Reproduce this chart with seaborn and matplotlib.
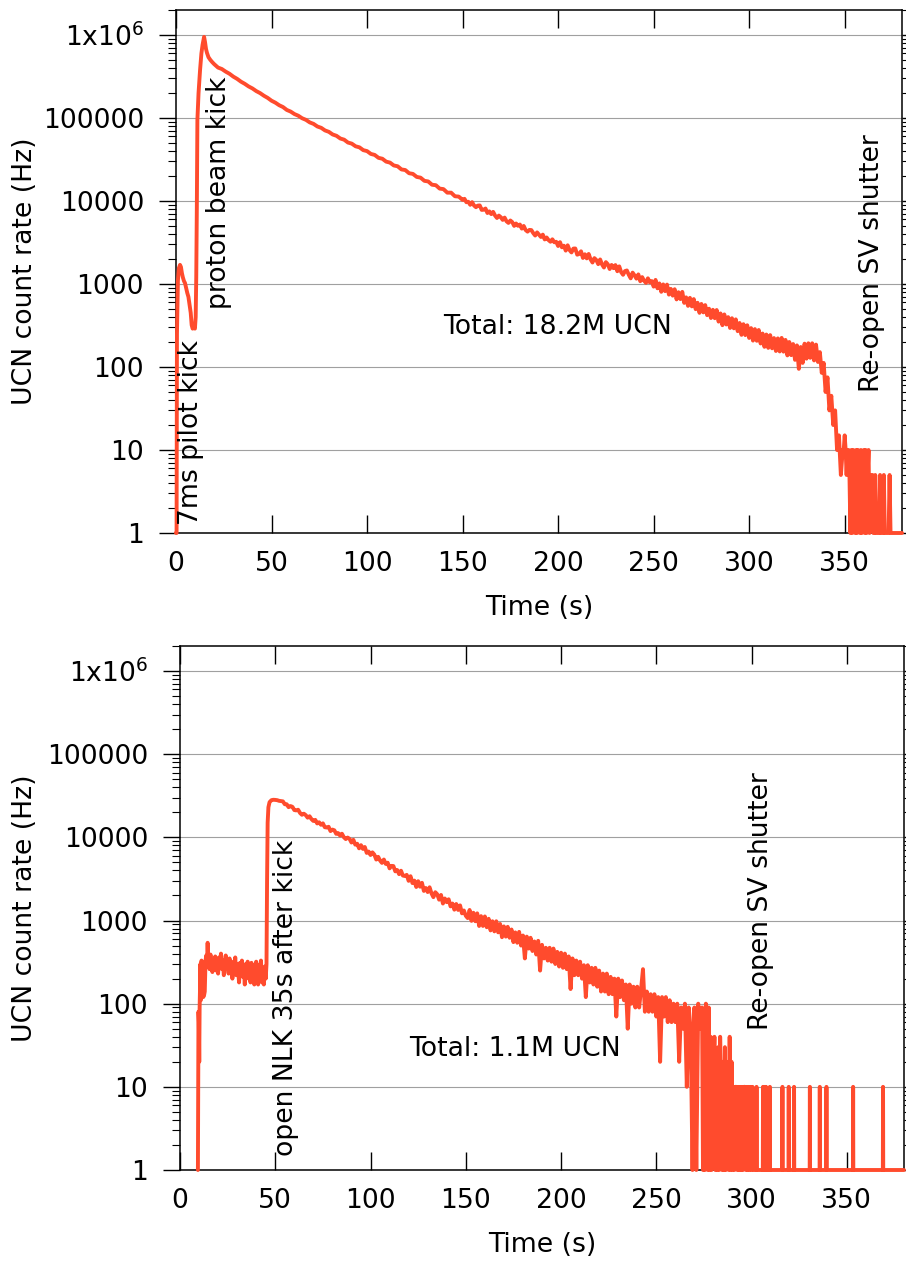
import numpy as np
import pandas as pd
import matplotlib
matplotlib.use("Agg")
import matplotlib.pyplot as plt
import matplotlib.ticker as mticker
import seaborn as sns

# ---------------------------------------------------------------------------
# UCN count rate (Hz) versus time (s).  Each run is stored as a few segments;
# the regular segments share a sampling step, the irregular ones list times.
# ---------------------------------------------------------------------------

# ---- Run 1: 7 ms pilot kick, then proton beam kick -------------------------
run1_kick_time = [0.0, 0.3, 0.5, 1.0, 1.5, 2.1, 2.6, 3.1, 3.6, 4.2, 4.7, 5.3, 5.9,
                  6.5, 7.1, 7.7, 8.2, 8.7, 9.3, 9.9, 10.3, 10.6, 10.9, 11.2, 11.8,
                  12.6, 13.3, 13.9, 14.7, 15.2, 15.7, 16.2, 17.0, 18.0, 19.0, 20.0,
                  21.0, 22.0]
run1_kick_rate = [0, 0, 250, 1100, 1550, 1700, 1600, 1350, 1200, 1080, 1030, 900, 780,
                  700, 560, 450, 320, 290, 300, 290, 400, 1200, 8000, 95000, 200000,
                  380000, 600000, 760000, 950000, 820000, 680000, 610000, 540000,
                  500000, 470000, 445000, 425000, 405000]

# 24 s .. 150 s, every 2 s
run1_early_grid = (24, 150, 2)
run1_early_rate = [389000, 362000, 341000, 315000, 296000, 274000, 258000, 240000,
                   227000, 211000, 199500, 185500, 174500, 161500, 153000, 142500,
                   135500, 125000, 119500, 111500, 106500, 99300, 95000, 88500,
                   84900, 79000, 76100, 70800, 68100, 63300, 61000, 56600,
                   54800, 50600, 49100, 45600, 44300, 41000, 39900, 36900,
                   35900, 33100, 32300, 29800, 29000, 26800, 26200, 24000,
                   23600, 21600, 21200, 19500, 19100, 17500, 17200, 15700,
                   15500, 14100, 13900, 12600, 12600, 11400, 11300, 10300]

# 151 s .. 250 s, every 1 s
run1_mid_grid = (151, 250, 1)
run1_mid_rate = [10620, 9650, 9800, 8990, 9690, 8815, 8420, 8805, 8840, 7805,
                 7850, 8115, 7165, 7495, 6950, 7400, 6675, 6240, 6670, 6375,
                 5915, 6310, 5695, 5445, 5820, 5570, 5010, 5355, 5025, 5205,
                 4645, 5005, 4470, 4275, 4485, 4460, 4100, 3835, 4185, 3930,
                 3685, 3935, 3440, 3635, 3380, 3230, 3455, 3180, 3225, 2870,
                 3190, 2765, 2895, 2525, 2925, 2560, 2400, 2670, 2680, 2255,
                 2300, 2475, 2060, 2280, 2035, 2300, 1980, 1815, 2050, 1945,
                 1735, 1975, 1720, 1580, 1835, 1730, 1515, 1695, 1550, 1690,
                 1425, 1630, 1390, 1290, 1430, 1455, 1290, 1170, 1370, 1270,
                 1160, 1305, 1080, 1210, 1095, 1030, 1170, 1045, 1085, 930]

# 251 s .. 349 s, every 1 s
run1_late_grid = (251, 349, 1)
run1_late_rate = [1120, 887, 1016, 805, 989, 820, 984, 745, 873, 724,
                  865, 652, 796, 658, 804, 592, 690, 545, 681, 537,
                  658, 497, 594, 449, 575, 455, 557, 421, 504, 389,
                  489, 387, 486, 352, 442, 319, 430, 325, 399, 295,
                  387, 292, 375, 270, 339, 244, 328, 242, 318, 224,
                  294, 208, 286, 207, 279, 192, 253, 175, 246, 170,
                  242, 168, 223, 156, 221, 154, 224, 153, 212, 138,
                  200, 139, 189, 122, 182, 95, 174, 112, 191, 126,
                  193, 129, 193, 120, 186, 115, 151, 85, 112, 50,
                  75, 30, 45, 20, 30, 10, 15, 5, 10]

# 349.5 s .. 380 s, every 0.5 s
run1_tail_grid = (349.5, 380, 0.5)
run1_tail_rate = [10, 15, 10, 5, 10, 10, 5, 0, 10, 0,
                  10, 5, 0, 10, 0, 10, 5, 0, 10, 0,
                  5, 10, 0, 10, 0, 5, 10, 0, 5, 5,
                  5, 0, 0, 5, 0, 0, 0, 0, 5, 0,
                  0, 0, 5, 0, 0, 0, 0, 0, 5, 0,
                  0, 0, 0, 0, 0, 0, 0, 0, 0, 0, 0, 0]

# ---- Run 2: NLK opened 35 s after the kick ---------------------------------
run2_start_time = [9.4, 9.7, 9.9, 10.1, 10.3, 10.5, 10.7, 10.9, 11.1, 11.3, 11.6,
                   11.9, 12.2, 12.6, 13.0, 13.4, 13.8, 14.2, 14.5, 14.8]
run2_start_rate = [0, 80, 60, 20, 90, 150, 300, 110, 280, 330, 260,
                   130, 120, 125, 140, 330, 380, 300, 540, 320]

# 15 s .. 45 s, every 0.5 s (closed NLK)
run2_plateau_grid = (15, 45, 0.5)
run2_plateau_rate = [350, 260, 390, 300, 240, 330, 280, 370, 250, 310, 230,
                     360, 290, 400, 260, 330, 220, 300, 380, 270, 310,
                     230, 350, 240, 290, 200, 320, 260, 360, 220, 300,
                     250, 180, 310, 240, 330, 210, 280, 170, 300, 240,
                     320, 200, 270, 180, 310, 230, 290, 170, 260, 320,
                     220, 170, 290, 240, 330, 180, 260, 170, 280, 200]

run2_open_time = [45.4, 45.7, 46.0, 46.4, 47.0, 48.0, 49.0, 50.0, 51.0, 52.0]
run2_open_rate = [300, 3000, 15000, 23000, 26500, 28000, 28300, 28200, 28000, 27500]

# 54 s .. 150 s, every 1 s
run2_early_grid = (54, 150, 1)
run2_early_rate = [27090, 25010, 25010, 23070, 23780, 23300, 21290, 21090, 21500, 19650,
                   18680, 19260, 18500, 17250, 17940, 16570, 15730, 16230, 14700, 15180,
                   14160, 14740, 13240, 13130, 13400, 11890, 12400, 12160, 11020, 11260,
                   10510, 11060, 10030, 9540, 9950, 9570, 8660, 9340, 8170, 8380,
                   7380, 8050, 7260, 7660, 6500, 6750, 6130, 6600, 6200, 5410,
                   5840, 5270, 4930, 5410, 4790, 4960, 4240, 4540, 4520, 3900,
                   4050, 3610, 3970, 3470, 3430, 3540, 3000, 3410, 2820, 3020,
                   2530, 2970, 2550, 2840, 2270, 2460, 2200, 2510, 2120, 1910,
                   2190, 2070, 1780, 2030, 1600, 1840, 1660, 1800, 1480, 1600,
                   1350, 1580, 1340, 1520, 1220, 1320, 1140]

# 151 s .. 274 s, every 1 s
run2_late_grid = (151, 274, 1)
run2_late_rate = [1070, 1340, 990, 1240, 980, 1220, 860, 1130, 860, 1120,
                  830, 1050, 760, 980, 740, 980, 720, 910, 630, 850,
                  640, 840, 620, 780, 550, 720, 540, 730, 500, 660,
                  350, 640, 460, 620, 430, 560, 390, 570, 250, 510,
                  350, 470, 330, 470, 320, 460, 300, 420, 280, 410,
                  270, 400, 260, 370, 150, 350, 220, 330, 220, 320,
                  200, 290, 120, 290, 180, 270, 170, 270, 160, 250,
                  140, 230, 140, 230, 130, 210, 130, 200, 70, 200,
                  120, 190, 110, 170, 50, 170, 100, 160, 90, 160,
                  90, 150, 260, 80, 140, 80, 130, 80, 130, 70,
                  120, 20, 120, 70, 120, 60, 110, 60, 100, 60,
                  100, 20, 90, 50, 100, 10, 90, 50, 0, 90,
                  0, 100, 50, 90]

# 274.5 s .. 302 s, every 0.5 s
run2_fade_grid = (274.5, 302, 0.5)
run2_fade_rate = [0, 80, 0, 100, 30, 0, 90, 0, 40, 0,
                  30, 10, 40, 0, 20, 0, 30, 0, 40, 10,
                  0, 20, 0, 30, 0, 20, 10, 0, 40, 0,
                  20, 0, 10, 0, 10, 10, 0, 10, 0, 10,
                  0, 10, 0, 10, 10, 0, 10, 0, 10, 0,
                  10, 0, 10, 0, 0, 0]

# after 302 s: empty 0.1 s bins except for single counts (10 Hz)
run2_tail_grid = (302.1, 380.0, 0.1)
run2_single_count_times = [302.6, 306.0, 306.8, 307.6, 309.6, 316.2, 319.5, 322.3,
                           330.6, 335.8, 339.3, 353.3, 369.0]
run2_single_count_rate = 10

yticks = [1, 10, 100, 1000, 10000, 100000, 1000000]
ytick_labels = ["1", "10", "100", "1000", "10000", "100000",
                r"$\mathregular{1x10^{6}}$"]
xticks = [0, 50, 100, 150, 200, 250, 300, 350]


def grid(spec):
    start, stop, step = spec
    return np.round(np.arange(start, stop + step / 2, step), 3)


def series(parts):
    for p in parts:
        assert len(p[0]) == len(p[1]), (len(p[0]), len(p[1]))
    t = np.concatenate([np.asarray(p[0], float) for p in parts])
    r = np.concatenate([np.asarray(p[1], float) for p in parts])
    return pd.DataFrame({"time": t, "rate": r})


run1 = series([
    (run1_kick_time, run1_kick_rate),
    (grid(run1_early_grid), run1_early_rate),
    (grid(run1_mid_grid), run1_mid_rate),
    (grid(run1_late_grid), run1_late_rate),
    (grid(run1_tail_grid), run1_tail_rate),
])

tail_t = grid(run2_tail_grid)
tail_r = np.zeros_like(tail_t)
tail_idx = np.rint((np.array(run2_single_count_times) - run2_tail_grid[0])
                   / run2_tail_grid[2]).astype(int)
tail_r[tail_idx] = run2_single_count_rate

run2 = series([
    (run2_start_time, run2_start_rate),
    (grid(run2_plateau_grid), run2_plateau_rate),
    (run2_open_time, run2_open_rate),
    (grid(run2_early_grid), run2_early_rate),
    (grid(run2_late_grid), run2_late_rate),
    (grid(run2_fade_grid), run2_fade_rate),
    (tail_t, tail_r),
])

# ---------------------------------------------------------------------------
sns.set_style("white")
plt.rcParams["font.family"] = ["DejaVu Sans"]
plt.rcParams["mathtext.default"] = "regular"
for key in ("text.color", "axes.labelcolor", "xtick.color", "ytick.color"):
    plt.rcParams[key] = "black"

FS = 19.2
LINE = "#ff4b2d"
W, H = 906, 1262

fig = plt.figure(figsize=(W / 100, H / 100), dpi=100)


def panel(rect_px, df, labels):
    l, t, r, b = rect_px
    ax = fig.add_axes([l / W, 1 - b / H, (r - l) / W, (b - t) / H])
    ax.set_yscale("log")
    ax.set_xlim(0, 380)
    ax.set_ylim(1, 2.0e6)

    # counts of zero sit on the 1 Hz floor of the log axis
    shown = df.assign(rate=df["rate"].clip(lower=1))
    sns.lineplot(data=shown, x="time", y="rate", ax=ax, color=LINE,
                 linewidth=2.8, estimator=None, sort=False,
                 clip_on=False, zorder=4)

    ax.yaxis.set_major_locator(mticker.FixedLocator(yticks))
    ax.yaxis.set_major_formatter(mticker.FixedFormatter(ytick_labels))
    ax.yaxis.set_minor_locator(mticker.LogLocator(base=10, subs=np.arange(2, 10)))
    ax.yaxis.set_minor_formatter(mticker.NullFormatter())
    ax.xaxis.set_major_locator(mticker.FixedLocator(xticks))
    ax.xaxis.set_minor_locator(mticker.NullLocator())

    ax.tick_params(axis="y", which="major", direction="out", length=12, width=1.0,
                   left=True, right=True, labelsize=FS, pad=11)
    ax.tick_params(axis="y", which="minor", direction="out", length=6, width=0.8,
                   left=True, right=True)
    ax.tick_params(axis="x", which="major", direction="in", length=13, width=1.0,
                   bottom=True, top=True, labelsize=FS, pad=13)

    ax.yaxis.grid(True, which="major", color="#a0a0a0", linewidth=0.8)
    ax.xaxis.grid(False)
    ax.set_axisbelow(True)
    for s in ax.spines.values():
        s.set_color("black")
        s.set_linewidth(1.1)

    ax.set_xlabel("Time (s)", fontsize=FS)
    ax.set_ylabel("UCN count rate (Hz)", fontsize=FS)
    ax.xaxis.set_label_coords(0.5, -62 / (b - t))
    ax.yaxis.set_label_coords((38 - l) / (r - l), 0.5)

    for text, x, y, rot, ha, va in labels:
        ax.text(x, y, text, rotation=rot, ha=ha, va=va, fontsize=FS, zorder=5)
    return ax


panel((176, 10, 902, 533), run1, [
    ("7ms pilot kick", 7.9, 1.25, 90, "center", "bottom"),
    ("proton beam kick", 22.5, 500, 90, "center", "bottom"),
    ("Total: 18.2M UCN", 139.8, 300, 0, "left", "center"),
    ("Re-open SV shutter", 364.4, 50, 90, "center", "bottom"),
])

panel((180, 646, 904, 1170), run2, [
    ("open NLK 35s after kick", 55.6, 1.47, 90, "center", "bottom"),
    ("Total: 1.1M UCN", 120, 28.6, 0, "left", "center"),
    ("Re-open SV shutter", 304.8, 48, 90, "center", "bottom"),
])

fig.savefig("out.png", dpi=100)
